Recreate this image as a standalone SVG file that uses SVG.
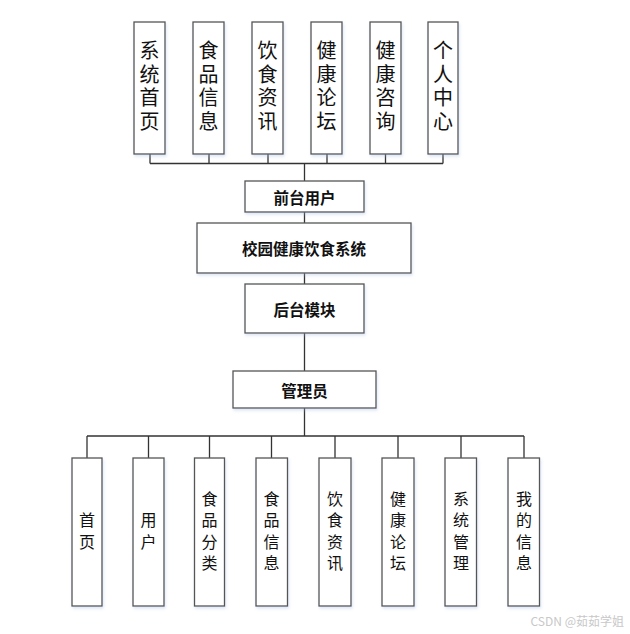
<svg xmlns="http://www.w3.org/2000/svg" width="630" height="634" viewBox="0 0 630 634">
<defs>
<filter id="sh" x="-20%" y="-20%" width="140%" height="140%">
<feGaussianBlur in="SourceAlpha" stdDeviation="1.5"/>
<feOffset dx="1" dy="2" result="b"/>
<feFlood flood-color="#9fb8e0" flood-opacity="0.35"/>
<feComposite in2="b" operator="in"/>
<feMerge><feMergeNode/><feMergeNode in="SourceGraphic"/></feMerge>
</filter>
</defs>
<style>
rect{fill:#fff;stroke:#555;stroke-width:1.3;filter:url(#sh)}
text{font-family:"Noto Sans CJK SC","Liberation Sans",sans-serif;fill:#111;text-anchor:middle}
.v20{font-size:20px}
.v16{font-size:16px}
.m{font-size:15.5px;font-weight:bold;dominant-baseline:central}
.wm{font-size:12px;fill:#c8c8c8;text-anchor:end}
#connectors path{fill:none;stroke:#333;stroke-width:1.3}
</style>
<rect x="0" y="0" width="630" height="634" style="fill:#fff;stroke:none;filter:none"/>
<g id="connectors">
<path d="M150 154V163.5M209 154V163.5M268 154V163.5M327 154V163.5M385.5 154V163.5M443 154V163.5M150 163.5H443M304.5 163.5V181"/>
<path d="M304.5 212V223M304.5 273V284M304.5 333V371M304.5 408V436"/>
<path d="M87 436H524M87 436V458M148.5 436V458M209.5 436V458M271.5 436V458M335 436V458M398 436V458M461 436V458M524 436V458"/>
</g>
<g id="n-xitongshouye"><rect x="134" y="22" width="31" height="132"/><text class="v20" x="149.5"><tspan x="149.5" y="58">系</tspan><tspan x="149.5" y="81.5">统</tspan><tspan x="149.5" y="105">首</tspan><tspan x="149.5" y="128.5">页</tspan></text></g>
<g id="n-shipinxinxi"><rect x="193" y="22" width="31" height="132"/><text class="v20" x="208.5"><tspan x="208.5" y="58">食</tspan><tspan x="208.5" y="81.5">品</tspan><tspan x="208.5" y="105">信</tspan><tspan x="208.5" y="128.5">息</tspan></text></g>
<g id="n-yinshizixun"><rect x="252" y="22" width="31" height="132"/><text class="v20" x="267.5"><tspan x="267.5" y="58">饮</tspan><tspan x="267.5" y="81.5">食</tspan><tspan x="267.5" y="105">资</tspan><tspan x="267.5" y="128.5">讯</tspan></text></g>
<g id="n-jiankangluntan"><rect x="311" y="22" width="31" height="132"/><text class="v20" x="326.5"><tspan x="326.5" y="58">健</tspan><tspan x="326.5" y="81.5">康</tspan><tspan x="326.5" y="105">论</tspan><tspan x="326.5" y="128.5">坛</tspan></text></g>
<g id="n-jiankangzixun"><rect x="370" y="22" width="31" height="132"/><text class="v20" x="385.5"><tspan x="385.5" y="58">健</tspan><tspan x="385.5" y="81.5">康</tspan><tspan x="385.5" y="105">咨</tspan><tspan x="385.5" y="128.5">询</tspan></text></g>
<g id="n-gerenzhongxin"><rect x="428" y="22" width="30" height="132"/><text class="v20" x="443"><tspan x="443" y="58">个</tspan><tspan x="443" y="81.5">人</tspan><tspan x="443" y="105">中</tspan><tspan x="443" y="128.5">心</tspan></text></g>
<g id="n-qiantai"><rect x="245" y="181" width="119" height="31"/><text class="m" x="304.5" y="196.5">前台用户</text></g>
<g id="n-xitong"><rect x="197" y="223" width="214" height="50"/><text class="m" x="304" y="248">校园健康饮食系统</text></g>
<g id="n-houtai"><rect x="245" y="284" width="119" height="49"/><text class="m" x="304.5" y="308.5">后台模块</text></g>
<g id="n-guanliyuan"><rect x="233" y="371" width="143" height="37"/><text class="m" x="304.5" y="389.5">管理员</text></g>
<g id="n-shouye"><rect x="72" y="458" width="30" height="148"/><text class="v16"><tspan x="87" y="526">首</tspan><tspan x="87" y="548">页</tspan></text></g>
<g id="n-yonghu"><rect x="133" y="458" width="31" height="148"/><text class="v16"><tspan x="148.5" y="526">用</tspan><tspan x="148.5" y="548">户</tspan></text></g>
<g id="n-shipinfenlei"><rect x="194.5" y="458" width="30" height="148"/><text class="v16"><tspan x="209.5" y="504.5">食</tspan><tspan x="209.5" y="526">品</tspan><tspan x="209.5" y="547.5">分</tspan><tspan x="209.5" y="569">类</tspan></text></g>
<g id="n-shipinxinxi2"><rect x="256" y="458" width="31.5" height="148"/><text class="v16"><tspan x="271.5" y="504.5">食</tspan><tspan x="271.5" y="526">品</tspan><tspan x="271.5" y="547.5">信</tspan><tspan x="271.5" y="569">息</tspan></text></g>
<g id="n-yinshizixun2"><rect x="319" y="458" width="32" height="148"/><text class="v16"><tspan x="335" y="504.5">饮</tspan><tspan x="335" y="526">食</tspan><tspan x="335" y="547.5">资</tspan><tspan x="335" y="569">讯</tspan></text></g>
<g id="n-jiankangluntan2"><rect x="382" y="458" width="32" height="148"/><text class="v16"><tspan x="398" y="504.5">健</tspan><tspan x="398" y="526">康</tspan><tspan x="398" y="547.5">论</tspan><tspan x="398" y="569">坛</tspan></text></g>
<g id="n-xitongguanli"><rect x="445" y="458" width="31.5" height="148"/><text class="v16"><tspan x="461" y="504.5">系</tspan><tspan x="461" y="526">统</tspan><tspan x="461" y="547.5">管</tspan><tspan x="461" y="569">理</tspan></text></g>
<g id="n-wodexinxi"><rect x="508" y="458" width="31.5" height="148"/><text class="v16"><tspan x="524" y="504.5">我</tspan><tspan x="524" y="526">的</tspan><tspan x="524" y="547.5">信</tspan><tspan x="524" y="569">息</tspan></text></g>
<text class="wm" x="624" y="626">CSDN @茹茹学姐</text>
</svg>
